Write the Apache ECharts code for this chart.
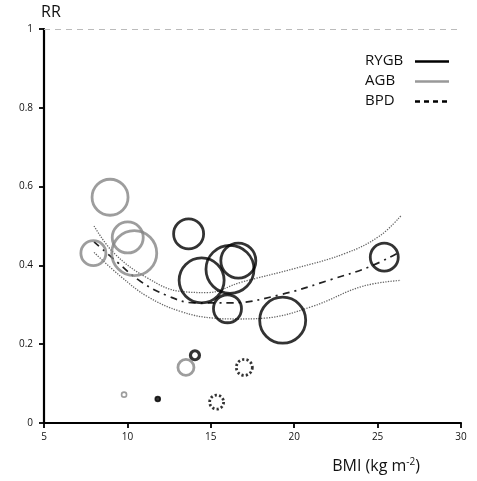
<!DOCTYPE html>
<html>
<head>
<meta charset="utf-8">
<script src="https://cdn.jsdelivr.net/npm/echarts@6/dist/echarts.min.js"></script>
<style>html,body{margin:0;padding:0;background:#fff}#c{width:477px;height:481px}</style>
</head>
<body>
<div id="c"></div>
<script>
// ---- data ----
const xTicks = [5, 10, 15, 20, 25, 30];
const yTicks = [0, 0.2, 0.4, 0.6, 0.8, 1];

const rygbX = [13.67, 14.45, 16.15, 16.65, 16.0, 19.31, 25.4, 14.05, 11.82];
const rygbY = [0.48, 0.362, 0.39, 0.412, 0.29, 0.261, 0.421, 0.172, 0.061];
const rygbW = [30, 45, 48, 35, 28, 46, 28, 9, 5];

const agbX = [8.96, 7.96, 10.02, 10.41, 13.51, 9.8];
const agbY = [0.573, 0.431, 0.471, 0.431, 0.141, 0.072];
const agbW = [36, 25, 31, 45, 16, 5];

const bpdX = [17.01, 15.35];
const bpdY = [0.141, 0.053];
const bpdW = [16, 14];

const fitX = [8.0, 9.4, 10.8, 12.4, 14.0, 16.2, 19.2, 22.2, 24.6, 26.4];
const fitY = [0.46, 0.408, 0.359, 0.323, 0.305, 0.305, 0.326, 0.364, 0.398, 0.436];

const upX = [8.0, 9.2, 11.2, 13.2, 14.8, 16.8, 20.1, 23.1, 25.1, 26.4];
const upY = [0.50, 0.431, 0.368, 0.334, 0.331, 0.357, 0.393, 0.431, 0.474, 0.526];

const loX = [8.0, 9.6, 11.2, 13.2, 15.2, 16.6, 18.2, 21.1, 24.1, 26.4];
const loY = [0.433, 0.372, 0.321, 0.283, 0.266, 0.264, 0.266, 0.296, 0.347, 0.362];

// ---- build ----
const zip = (xs, ys) => xs.map((x, i) => [x, ys[i]]);
function bubbles(xs, ys, ws, color, dotted) {
  return xs.map((x, i) => {
    const tiny = ws[i] < 7;
    return {
      value: [x, ys[i], ws[i]],
      itemStyle: {
        color: tiny && color === '#000' ? color : 'rgba(0,0,0,0)',
        borderColor: color,
        borderWidth: tiny ? 1.6 : (ws[i] < 12 ? 3.2 : 2.8),
        borderType: dotted ? [2.2, 2.2] : 'solid'
      }
    };
  });
}
const FONT = '"Open Sans", "Noto Sans", sans-serif';

const chart = echarts.init(document.getElementById('c'));
chart.setOption({
  animation: false,
  backgroundColor: '#fff',
  grid: {left: 44, right: 16, top: 29, bottom: 58},
  xAxis: {
    type: 'value', min: xTicks[0], max: xTicks[xTicks.length - 1], interval: 5,
    splitLine: {show: true, lineStyle: {color: 'rgba(255,255,255,0)'}},
    axisLine: {show: true, lineStyle: {color: '#000', width: 2.2}},
    axisTick: {show: true, length: 5, lineStyle: {color: '#000', width: 1.8}},
    axisLabel: {margin: 9, fontSize: 10, color: '#111', fontFamily: FONT},
    name: '{a|BMI (kg m}{s|-2}{a|)}',
    nameLocation: 'end',
    nameGap: -41,
    nameTextStyle: {
      align: 'right', verticalAlign: 'top', padding: [34, 0, 0, 0],
      rich: {
        a: {fontSize: 16, fontFamily: FONT, color: '#111'},
        s: {fontSize: 10, fontFamily: FONT, color: '#111', verticalAlign: 'top', padding: [0, 0, 8, 0]}
      }
    }
  },
  yAxis: {
    type: 'value', min: yTicks[0], max: yTicks[yTicks.length - 1], interval: 0.2,
    splitLine: {show: true, lineStyle: {color: 'rgba(255,255,255,0)'}},
    axisLine: {show: true, lineStyle: {color: '#000', width: 2.2}},
    axisTick: {show: true, length: 5, lineStyle: {color: '#000', width: 1.8}},
    axisLabel: {margin: 11, fontSize: 10, color: '#111', fontFamily: FONT},
    name: 'RR',
    nameLocation: 'end',
    nameGap: 9,
    nameTextStyle: {fontSize: 16, fontFamily: FONT, color: '#111', align: 'left', padding: [0, 0, 0, -3]}
  },
  series: [
    {
      type: 'line', name: 'upper', data: zip(upX, upY), smooth: 0.4, symbol: 'none',
      lineStyle: {color: '#666', width: 1.3, type: [1.3, 1.3]}, z: 2,
      markLine: {
        silent: true, symbol: 'none', label: {show: false},
        lineStyle: {color: '#bbb', width: 1, type: [6, 5]},
        data: [{yAxis: 1}]
      }
    },
    {
      type: 'line', name: 'lower', data: zip(loX, loY), smooth: 0.4, symbol: 'none',
      lineStyle: {color: '#666', width: 1.3, type: [1.3, 1.3]}, z: 2
    },
    {
      type: 'line', name: 'fit', data: zip(fitX, fitY), smooth: 0.4, symbol: 'none',
      lineStyle: {color: '#222', width: 1.7, type: [7, 5, 2, 5]}, z: 3
    },
    {
      type: 'scatter', name: 'AGB', data: bubbles(agbX, agbY, agbW, '#858585', false),
      symbolSize: d => d[2], z: 4
    },
    {
      type: 'scatter', name: 'RYGB', data: bubbles(rygbX, rygbY, rygbW, '#000', false),
      symbolSize: d => d[2], z: 5
    },
    {
      type: 'scatter', name: 'BPD', data: bubbles(bpdX, bpdY, bpdW, '#000', true),
      symbolSize: d => d[2], z: 5
    }
  ],
  graphic: [
    {type: 'text', left: 365, top: 53, style: {text: 'RYGB', font: '15px ' + FONT, fill: '#111'}},
    {type: 'text', left: 365, top: 73, style: {text: 'AGB', font: '15px ' + FONT, fill: '#111'}},
    {type: 'text', left: 365, top: 93, style: {text: 'BPD', font: '15px ' + FONT, fill: '#111'}},
    {type: 'line', shape: {x1: 415, y1: 61.5, x2: 449, y2: 61.5}, style: {stroke: '#000', lineWidth: 2.5}},
    {type: 'line', shape: {x1: 415, y1: 81.5, x2: 449, y2: 81.5}, style: {stroke: '#999', lineWidth: 2.5}},
    {type: 'line', shape: {x1: 415, y1: 101.5, x2: 449, y2: 101.5}, style: {stroke: '#000', lineWidth: 2.5, lineDash: [5, 4]}}
  ]
});
</script>
</body>
</html>
